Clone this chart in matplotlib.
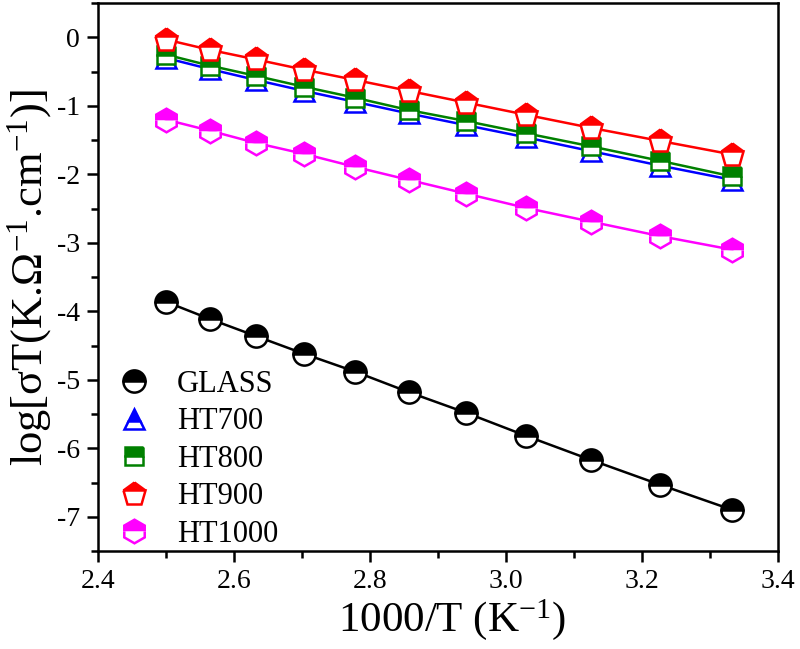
#!/usr/bin/env python3
"""Arrhenius plot of log(sigma*T) versus 1000/T for glass and heat-treated samples."""

import matplotlib
matplotlib.use("Agg")
import matplotlib.pyplot as plt
from matplotlib.lines import Line2D
from matplotlib.ticker import MultipleLocator

plt.rcParams["font.family"] = ["Liberation Serif", "DejaVu Serif"]
plt.rcParams["mathtext.fontset"] = "custom"
plt.rcParams["mathtext.rm"] = "Liberation Serif"
plt.rcParams["mathtext.it"] = "Liberation Serif:italic"
plt.rcParams["axes.unicode_minus"] = False

# 1000/T for T = 400 K down to 300 K
inv_t = [2.500, 2.564, 2.632, 2.703, 2.778, 2.857, 2.941, 3.030, 3.125, 3.226, 3.333]

glass = [-3.86, -4.11, -4.36, -4.62, -4.88, -5.18, -5.48, -5.82, -6.17, -6.53, -6.90]
ht700 = [-0.30, -0.46, -0.62, -0.78, -0.94, -1.11, -1.28, -1.46, -1.66, -1.87, -2.08]
ht800 = [-0.25, -0.41, -0.56, -0.72, -0.88, -1.06, -1.22, -1.40, -1.59, -1.80, -2.03]
ht900 = [-0.03, -0.18, -0.32, -0.47, -0.62, -0.78, -0.95, -1.13, -1.32, -1.51, -1.71]
ht1000 = [-1.20, -1.36, -1.54, -1.70, -1.89, -2.08, -2.28, -2.49, -2.69, -2.90, -3.10]

series = [
    ("GLASS", glass, "black", "o", 16),
    ("HT700", ht700, "blue", "^", 15),
    ("HT800", ht800, "green", "s", 13),
    ("HT900", ht900, "red", "p", 17),
    ("HT1000", ht1000, "magenta", "h", 17),
]


def plot(ax: plt.Axes) -> None:
    """Draw the five series with half-filled markers."""
    handles = []
    for name, vals, color, marker, size in series:
        style = dict(marker=marker, markersize=size, fillstyle="top",
                     markerfacecolor=color, markerfacecoloralt="white",
                     markeredgecolor=color, markeredgewidth=1.8)
        ax.plot(inv_t, vals, color=color, lw=1.8, **style)
        # legend shows the symbol only
        handles.append(Line2D([], [], linestyle="none", label=name, **style))

    ax.set_xlim(2.4, 3.4)
    ax.set_ylim(-7.5, 0.5)
    ax.xaxis.set_major_locator(MultipleLocator(0.2))
    ax.xaxis.set_minor_locator(MultipleLocator(0.1))
    ax.yaxis.set_major_locator(MultipleLocator(1))
    ax.yaxis.set_minor_locator(MultipleLocator(0.5))
    ax.xaxis.set_major_formatter(plt.FormatStrFormatter("%.1f"))

    ax.tick_params(which="both", direction="out", width=1.8, labelsize=20,
                   top=False, right=False)
    ax.tick_params(which="major", length=8, pad=5)
    ax.tick_params(which="minor", length=5)
    for sp in ax.spines.values():
        sp.set_linewidth(1.8)

    ax.set_xlabel(r"1000/T (K$^{\mathregular{-1}}$)", fontsize=31,
                  labelpad=2, x=0.52)
    ax.set_ylabel(r"log[σT(K.Ω$^{\mathregular{-1}}$.cm$^{\mathregular{-1}}$)]",
                  fontsize=32, labelpad=2)

    ax.legend(handles=handles, loc="lower left", bbox_to_anchor=(0.008, -0.024),
              frameon=False, fontsize=22, handlelength=1.0, handletextpad=0.9,
              labelspacing=0.28, borderpad=0.0)


def main() -> None:
    fig = plt.figure(figsize=(8.0, 6.49), dpi=100)
    ax = fig.add_axes([0.1225, 0.151, 0.85, 0.844])
    plot(ax)
    fig.savefig("out.png", dpi=100)


if __name__ == "__main__":
    main()
